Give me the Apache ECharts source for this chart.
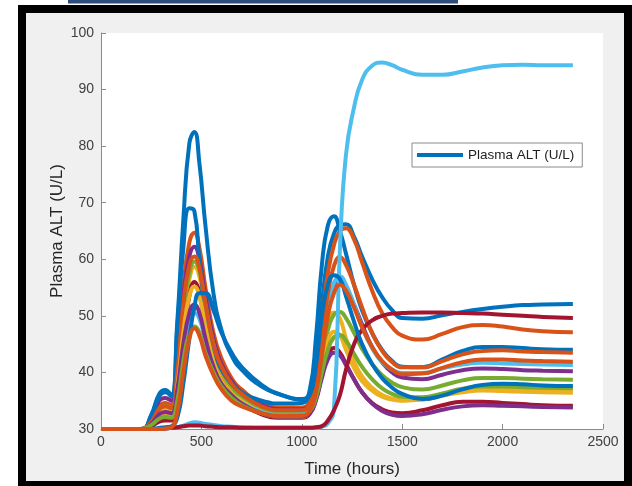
<!DOCTYPE html>
<html>
<head>
<meta charset="utf-8">
<title>Plasma ALT</title>
<script src="https://cdn.jsdelivr.net/npm/echarts@6/dist/echarts.min.js"></script>
<style>
  html, body { margin: 0; padding: 0; background: #fff; }
  #topbar { position: absolute; left: 68px; top: 0; width: 390px; height: 4px; background: #2e4c7c; border-bottom: 1px solid #8da3c4; box-sizing: border-box; }
  #frame { position: absolute; left: 18px; top: 5px; width: 614px; height: 481px; background: #000; }
  #panel { position: absolute; left: 26px; top: 13px; width: 598px; height: 468px; background: #f0f0f0; }
  #chart { position: absolute; left: 0; top: 0; width: 632px; height: 486px; }
</style>
</head>
<body>
<div id="topbar"></div>
<div id="frame"></div>
<div id="panel"></div>
<div id="chart"></div>
<script>
// Sample times (hours)
const hours = [0,200,250,290,320,350,380,410,440,465,490,520,560,600,650,700,800,900,
  1000,1040,1070,1100,1130,1160,1190,1220,1260,1300,1350,1400,1450,1500,1600,1700,1800,1900,2000,2100,2200,2350];

// Plasma ALT (U/L) per simulated run
const blueA = [30,30,32.5,36.2,36.9,36,49,67,80.5,82.5,77,66,54,47.5,43,40.5,37.5,36,
  35.2,36.5,42,52,60.5,64.5,66,66.2,64,60.5,56.5,53.3,51,49.6,49.5,50.1,50.7,51.2,51.6,51.9,52.0,52.1];
const orangeA = [30,30,31.5,34,34.6,34.2,42,55,63,64.7,62,55,47,42.5,39,37,34.5,33.8,
  33.8,35,40,49,57.5,62.5,65,65.5,63.5,59.5,54.5,50.5,48,46.5,45.8,46.8,48,48.4,48.1,47.6,47.3,47.1];
const yellowA = [30,30,31.2,33.2,33.5,33.3,39,50,56.5,58.7,57,51,44,39.5,36.8,35,33.2,32.6,
  32.6,33.5,37,43.5,48.8,50.6,49.5,46,42,39.3,37.3,36,35.4,35.1,35.2,35.9,36.5,36.8,36.7,36.6,36.5,36.4];
const purpleA = [30,30,31.8,35,35.5,35,42,53.5,60.5,62.2,60,53.5,46,41.5,38.5,36.5,34.3,33.5,
  33.5,34.5,38,45,51.5,55,56,55,52,48.5,44.5,41.8,40,39.1,38.8,39.6,40.4,40.7,40.6,40.4,40.3,40.2];
const greenA = [30,30,31.4,33.6,34,33.8,40,51,57.5,59.6,58,52,45,40.5,37.5,35.8,33.8,33.2,
  33.2,34,36.8,42.5,47.5,50.2,50.7,49.6,47,44.2,41.5,39.5,38.2,37.4,37,37.7,38.6,39,39,38.9,38.8,38.7];
const cyanA = [30,30,30.8,32,32.3,32.2,36,43.5,49,50.5,49.5,45.5,41,38,36,34.6,33,32.5,
  32.6,33.5,37,44.5,51.5,55.8,57,55.5,52,48,44.3,41.8,40.5,39.9,39.9,40.7,41.4,41.7,41.6,41.5,41.4,41.3];
const redA = [30,30,30.5,31.3,31.5,31.5,36,46,53.5,56,54,48,42,38.5,36,34.5,32.6,32,
  32,32.7,35.2,39.5,43,44.3,43.5,41.5,38.8,36.5,34.6,33.5,32.9,32.8,33.3,34.2,34.8,34.8,34.6,34.4,34.2,34.1];
const blueB = [30,30,32.3,35.8,36.5,35.8,48,62,69,68.5,60,51,44,40.5,38,36.5,35,34.5,
  34.6,37,46,59,66,67.6,65,61,55.5,51,47,44,42,41,40.9,42.3,43.8,44.5,44.5,44.3,44.1,44.0];
const orangeB = [30,30,31.3,33.5,34,33.7,40,52,59,60.5,58.5,52,45,41,38,36.2,34,33.3,
  33.3,34.5,38.5,46.5,54,58.8,60.4,59,55.5,51.5,47,43.8,41.8,40.9,40.9,42,43.2,43.8,43.9,43.7,43.6,43.5];
const yellowB = [30,30,31,32.5,32.8,32.7,37.5,47,53.5,55.2,53.5,48,42,38.5,36,34.5,32.8,32.2,
  32.2,33,36,41.5,45.5,47.2,46.5,44,40.8,38.5,36.8,35.7,35.2,35,35.2,36,36.7,37,37,36.9,36.8,36.8];
const purpleB = [30,30,31,32.6,33,32.8,37,45,50.5,52,50.5,46,41,38,36,34.5,32.8,32.2,
  32.2,32.8,35,39,42.3,43.5,43,41.3,38.8,36.5,34.5,33.2,32.5,32.3,32.6,33.4,34,34.2,34.1,34,33.9,33.8];
const greenB = [30,30,30.7,31.8,32.1,32,35,42,47,48.1,47,43.5,40,37.5,35.5,34.2,32.8,32.4,
  32.5,33.2,35.5,40,44,46.2,46.6,45.6,43.3,41,38.8,37.2,36.2,35.7,35.6,36.3,37.1,37.5,37.5,37.4,37.3,37.2];
const cyanB = [30,30,30,30,30.1,30.2,30.3,30.6,31,31.2,31.1,30.9,30.7,30.5,30.4,30.3,30.2,30.2,
  30.2,30.2,30.2,30.4,31,33.5,62,78.5,86.8,91.7,94.2,94.8,94.3,93.5,92.6,92.6,93.2,93.9,94.3,94.4,94.3,94.3];
const redB = [30,30,30,30,30.1,30.2,30.3,30.5,30.6,30.6,30.6,30.5,30.4,30.3,30.3,30.2,30.2,30.2,
  30.2,30.2,30.3,30.5,31.5,33.3,36,40.5,45,47.5,49.2,50,50.4,50.5,50.6,50.6,50.5,50.4,50.2,50,49.8,49.6];
const blueC = [30,30,30,30.2,30.3,30.5,32,38,46,51.5,54,54,51,47,43.5,41,37.8,36,
  35.3,36,41,50,55.5,57.2,56.5,53.5,49,45,41.5,39,37.3,36.2,35.3,35.9,37,37.8,38,37.9,37.7,37.6];
const orangeC = [30,30,30,30,30.1,30.3,33,40,46,47.8,46.5,43,39.5,37,35,34,32.8,32.3,
  32.3,33.3,36.5,43,50,54,55.5,54.5,51.5,48,44.5,42,40.5,39.7,39.8,40.8,41.8,42.3,42.3,42.1,42,41.9];

const runs = [blueA, orangeA, yellowA, purpleA, greenA, cyanA, redA,
  blueB, orangeB, yellowB, purpleB, greenB, cyanB, redB, blueC, orangeC];

// Default MATLAB line colour order, cycled over the runs
const palette = ['#0072BD', '#D95319', '#EDB120', '#7E2F8E', '#77AC30', '#4DBEEE', '#A2142F'];

const seriesName = 'Plasma ALT (U/L)';
const font = '"Liberation Sans", Arial, Helvetica, sans-serif';

const series = runs.map((vals, k) => ({
  name: seriesName,
  type: 'line',
  data: hours.map((h, i) => [h, vals[i]]),
  symbol: 'none',
  showSymbol: false,
  smooth: 0.5,
  color: palette[k % palette.length],
  lineStyle: { width: 4, color: palette[k % palette.length] },
  emphasis: { disabled: true }
}));

const chart = echarts.init(document.getElementById('chart'), null, { renderer: 'canvas' });
chart.setOption({
  animation: false,
  backgroundColor: 'transparent',
  grid: {
    left: 101, top: 33, right: 29, bottom: 57,
    show: true, backgroundColor: '#ffffff', borderWidth: 0
  },
  legend: {
    data: [seriesName],
    left: 412, top: 143,
    orient: 'vertical',
    padding: [5, 8, 5, 5],
    icon: 'rect',
    itemWidth: 46, itemHeight: 4,
    backgroundColor: '#ffffff',
    borderColor: '#8a8a8a', borderWidth: 1,
    textStyle: { fontFamily: font, fontSize: 13.5, color: '#222', lineHeight: 13 },
    selectedMode: false
  },
  xAxis: {
    type: 'value', min: 0, max: 2500, interval: 500,
    name: 'Time (hours)', nameLocation: 'middle', nameGap: 32,
    nameTextStyle: { fontFamily: font, fontSize: 17, color: '#262626' },
    axisLine: { show: true, lineStyle: { color: '#8a8a8a', width: 1 } },
    axisTick: { show: true, inside: true, length: 5, lineStyle: { color: '#8a8a8a' } },
    axisLabel: { fontFamily: font, fontSize: 14, color: '#404040', margin: 6, formatter: v => String(v) },
    splitLine: { show: false }
  },
  yAxis: {
    type: 'value', min: 30, max: 100, interval: 10,
    name: 'Plasma ALT (U/L)', nameLocation: 'middle', nameGap: 35, nameRotate: 90,
    nameMoveOverlap: false,
    nameTextStyle: { fontFamily: font, fontSize: 17, color: '#262626' },
    axisLine: { show: true, lineStyle: { color: '#8a8a8a', width: 1 } },
    axisTick: { show: true, inside: true, length: 5, lineStyle: { color: '#8a8a8a' } },
    axisLabel: { fontFamily: font, fontSize: 14, color: '#404040', margin: 7, formatter: v => String(v) },
    splitLine: { show: false }
  },
  series: series
});
</script>
</body>
</html>
